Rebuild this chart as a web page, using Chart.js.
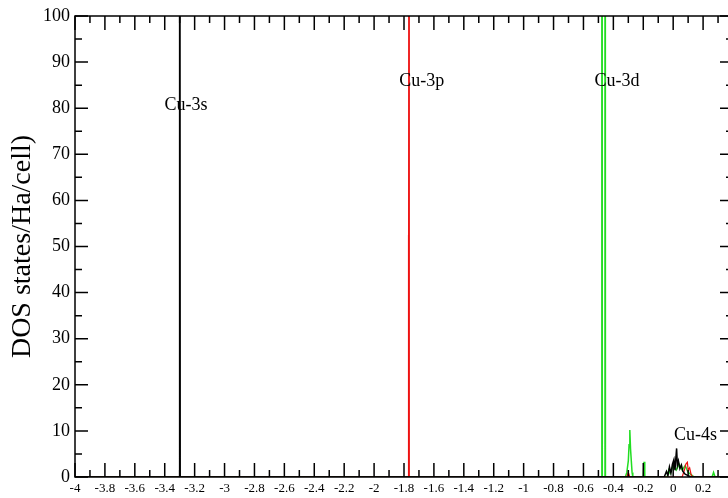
<!DOCTYPE html>
<html>
<head>
<meta charset="utf-8">
<script src="https://cdn.jsdelivr.net/npm/chart.js@4"></script>
<style>
  html, body { margin: 0; padding: 0; background: #fff; overflow: hidden; }
  #wrap { width: 750px; height: 498px; }
</style>
</head>
<body>
<div id="wrap"><canvas id="dos" width="750" height="498"></canvas></div>
<script>
// energy (Ha) and DOS values, one pair per orbital
const cu3sEnergy = [-4, -3.303, -3.302, -3.301, -3.298, -3.2965, -0.06, -0.045, -0.035, -0.025, -0.015, -0.005, 0.005, 0.012, 0.018, 0.023, 0.028, 0.035, 0.045, 0.055, 0.065, 0.08, 0.1, 0.12, 0.4];
const cu3sDos    = [0, 0, 4.1, 0.5, 300, 0, 0, 1.2, 0.3, 2.2, 0.8, 2.8, 3.8, 1.5, 4.2, 6.2, 2.5, 3.5, 1.8, 2.6, 1.2, 0.6, 0.3, 0, 0];

const cu3pEnergy = [-4, -1.772, -1.7705, -1.769, -1.766, -1.7645, -0.31, -0.3, -0.29, 0.06, 0.075, 0.085, 0.095, 0.1, 0.11, 0.12, 0.13, 0.4];
const cu3pDos    = [0, 0, 52.5, 0.5, 300, 0, 0, 1.0, 0, 0, 1.5, 2.8, 3.2, 1.5, 2.0, 0.5, 0, 0];

const cu3dEnergy = [-4, -0.48, -0.477, -0.474, -0.459, -0.456, -0.453, -0.32, -0.31, -0.3, -0.295, -0.29, -0.285, -0.28, -0.275, -0.27, -0.2, -0.195, -0.19, -0.04, -0.03, -0.02, 0.0, 0.02, 0.04, 0.06, 0.08, 0.1, 0.12, 0.14, 0.26, 0.27, 0.28, 0.4];
const cu3dDos    = [0, 0, 500, 0, 0, 500, 0, 0, 1, 3.5, 7, 10.2, 6, 3.5, 1, 0, 0, 3.3, 0, 0, 1.5, 0.8, 2.5, 1.5, 2.8, 1.5, 2.5, 1, 0.5, 0, 0, 1.0, 0, 0];

// tick positions and their texts (the 0.4 label falls outside the picture)
const xTickValues = [-4, -3.8, -3.6, -3.4, -3.2, -3, -2.8, -2.6, -2.4, -2.2, -2, -1.8, -1.6, -1.4, -1.2, -1, -0.8, -0.6, -0.4, -0.2, 0, 0.2, 0.4];
const xTickLabels = ['-4', '-3.8', '-3.6', '-3.4', '-3.2', '-3', '-2.8', '-2.6', '-2.4', '-2.2', '-2', '-1.8', '-1.6', '-1.4', '-1.2', '-1', '-0.8', '-0.6', '-0.4', '-0.2', '0', '0.2', ''];
const yTickValues = [0, 10, 20, 30, 40, 50, 60, 70, 80, 90, 100];
const yTickLabels = ['0', '10', '20', '30', '40', '50', '60', '70', '80', '90', '100'];

const peakLabels = ['Cu-3s', 'Cu-3p', 'Cu-3d', 'Cu-4s'];
const peakLabelX = [-3.258, -1.682, -0.375, 0.15];
const peakLabelY = [80.7, 85.9, 85.9, 9.0];

const serif = '"Liberation Serif", "Times New Roman", serif';

function toPoints(xs, ys) {
  return xs.map((v, i) => ({ x: v, y: ys[i] }));
}

// box with inward ticks on all four sides, plus the peak names
const framePlugin = {
  id: 'frame',
  afterDatasetsDraw(chart) {
    const { ctx, chartArea: a, scales: { x, y } } = chart;
    ctx.save();
    ctx.strokeStyle = '#000';
    ctx.lineWidth = 1.5;
    ctx.strokeRect(a.left, a.top, a.right - a.left, a.bottom - a.top);
    ctx.beginPath();
    x.ticks.forEach((t, i) => {
      const px = x.getPixelForValue(t.value);
      ctx.moveTo(px, a.bottom); ctx.lineTo(px, a.bottom - 14);
      ctx.moveTo(px, a.top); ctx.lineTo(px, a.top + 14);
      if (i < x.ticks.length - 1) {
        const m = x.getPixelForValue((t.value + x.ticks[i + 1].value) / 2);
        ctx.moveTo(m, a.bottom); ctx.lineTo(m, a.bottom - 7);
        ctx.moveTo(m, a.top); ctx.lineTo(m, a.top + 7);
      }
    });
    y.ticks.forEach((t, i) => {
      const py = y.getPixelForValue(t.value);
      ctx.moveTo(a.left, py); ctx.lineTo(a.left + 13, py);
      ctx.moveTo(a.right, py); ctx.lineTo(a.right - 13, py);
      if (i < y.ticks.length - 1) {
        const m = y.getPixelForValue((t.value + y.ticks[i + 1].value) / 2);
        ctx.moveTo(a.left, m); ctx.lineTo(a.left + 7, m);
        ctx.moveTo(a.right, m); ctx.lineTo(a.right - 7, m);
      }
    });
    ctx.stroke();

    ctx.fillStyle = '#000';
    ctx.font = '18px ' + serif;
    ctx.textAlign = 'center';
    ctx.textBaseline = 'middle';
    peakLabels.forEach((txt, i) => {
      ctx.fillText(txt, x.getPixelForValue(peakLabelX[i]), y.getPixelForValue(peakLabelY[i]));
    });
    ctx.restore();
  }
};

const ctx = document.getElementById('dos').getContext('2d');
new Chart(ctx, {
  type: 'line',
  data: {
    datasets: [
      { label: 'Cu-3s', data: toPoints(cu3sEnergy, cu3sDos), borderColor: '#000000', borderWidth: 1.5 },
      { label: 'Cu-3p', data: toPoints(cu3pEnergy, cu3pDos), borderColor: '#ee1111', borderWidth: 1.2 },
      { label: 'Cu-3d', data: toPoints(cu3dEnergy, cu3dDos), borderColor: '#22dd22', borderWidth: 1.5 },
    ],
  },
  options: {
    responsive: false,
    animation: false,
    elements: { point: { radius: 0 }, line: { tension: 0 } },
    layout: { padding: { top: 16, right: 17, left: 0, bottom: 0 } },
    plugins: {
      legend: { display: false },
      tooltip: { enabled: false },
    },
    scales: {
      x: {
        type: 'linear',
        min: -4,
        max: 0.4,
        grid: { display: false, drawTicks: false },
        border: { display: false },
        afterBuildTicks: (scale) => {
          scale.ticks = xTickValues.map(v => ({ value: v }));
        },
        afterFit: (scale) => { scale.height = 21; },
        ticks: {
          autoSkip: false,
          maxRotation: 0,
          padding: 4,
          color: '#000',
          font: { size: 13, family: serif },
          callback: (v) => xTickLabels[xTickValues.indexOf(v)] ?? '',
        },
      },
      y: {
        type: 'linear',
        min: 0,
        max: 100,
        grid: { display: false, drawTicks: false },
        border: { display: false },
        afterBuildTicks: (scale) => {
          scale.ticks = yTickValues.map(v => ({ value: v }));
        },
        afterFit: (scale) => { scale.width = 75; },
        ticks: {
          autoSkip: false,
          padding: 5,
          color: '#000',
          font: { size: 18, family: serif },
          callback: (v) => yTickLabels[yTickValues.indexOf(v)] ?? '',
        },
        title: {
          display: true,
          text: 'DOS states/Ha/cell)',
          color: '#000',
          padding: { top: 6, bottom: 0 },
          font: { size: 28, family: serif },
        },
      },
    },
  },
  plugins: [framePlugin],
});
</script>
</body>
</html>
